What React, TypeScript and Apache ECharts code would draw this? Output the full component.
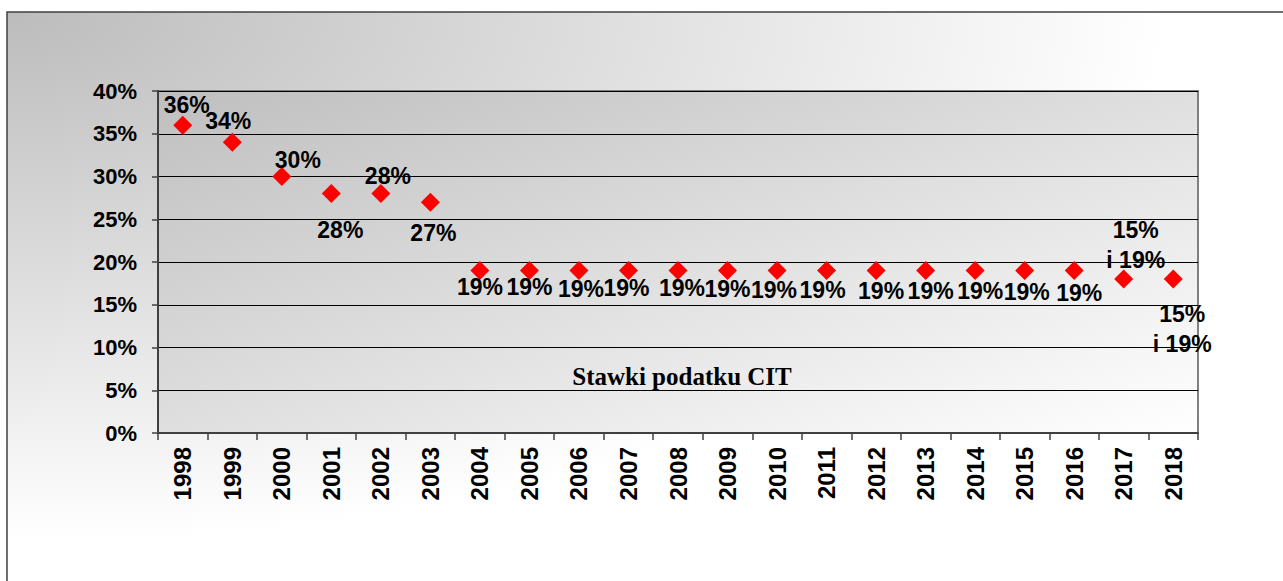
import React, { useEffect, useRef } from 'react';
import * as echarts from 'echarts';

const years = ['1998', '1999', '2000', '2001', '2002', '2003', '2004', '2005', '2006', '2007', '2008', '2009', '2010', '2011', '2012', '2013', '2014', '2015', '2016', '2017', '2018'];
const rates = [36, 34, 30, 28, 28, 27, 19, 19, 19, 19, 19, 19, 19, 19, 19, 19, 19, 19, 19, 18, 18];
const labelTexts = ['36%', '34%', '30%', '28%', '28%', '27%', '19%', '19%', '19%', '19%', '19%', '19%', '19%', '19%', '19%', '19%', '19%', '19%', '19%', '15%\ni 19%', '15%\ni 19%'];
const yTicks = [0, 5, 10, 15, 20, 25, 30, 35, 40];
const chartTitle = 'Stawki podatku CIT';

// label placement (layout only)
const labelOffsets: [number, number][] = [
  [4, -20], [-4, -21], [16, -17], [9, 36], [7, -18], [3, 31],
  [0, 16], [0, 16], [2, 18], [-2, 17], [4, 17], [0, 18], [-3, 19], [-4, 19], [5, 20], [5, 20], [5, 20], [2, 21], [5, 22],
  [12, -34], [9, 50],
];

export default function App() {
  const ref = useRef<HTMLDivElement>(null);
  useEffect(() => {
    const chart = echarts.init(ref.current!, null, { renderer: 'svg' });
    chart.setOption({
      animation: false,
      graphic: [
        {
          type: 'rect',
          z: -10,
          shape: { x: 7, y: 12, width: 1290, height: 590 },
          style: {
            fill: new echarts.graphic.RadialGradient(0, 0, 1, [
              { offset: 0, color: '#bcbcbc' },
              { offset: 0.9, color: '#ffffff' },
              { offset: 1, color: '#ffffff' },
            ]),
            stroke: '#404040',
            lineWidth: 1.5,
          },
        },
        {
          type: 'text',
          z: 10,
          x: 682,
          y: 376,
          style: {
            text: chartTitle,
            font: 'bold 25px "Liberation Serif", "Times New Roman", serif',
            fill: '#000',
            textAlign: 'center',
            textVerticalAlign: 'middle',
          },
        },
      ],
      grid: {
        left: 158,
        top: 91,
        right: 85,
        bottom: 148,
        show: true,
        backgroundColor: new echarts.graphic.LinearGradient(0, 0, 1, 1, [
          { offset: 0, color: '#bfbfbf' },
          { offset: 1, color: '#ffffff' },
        ]),
        borderColor: '#808080',
        borderWidth: 2,
      },
      xAxis: {
        type: 'category',
        data: years,
        boundaryGap: true,
        axisLine: { show: true, lineStyle: { color: '#404040', width: 2 } },
        axisTick: { show: true, alignWithLabel: false, interval: 0, length: 7, lineStyle: { color: '#404040', width: 1.5 } },
        axisLabel: {
          interval: 0,
          rotate: 90,
          margin: 14,
          color: '#000',
          fontSize: 24,
          fontWeight: 'bold',
          fontFamily: '"Liberation Sans", Arial, sans-serif',
        },
        splitLine: { show: false },
      },
      yAxis: {
        type: 'value',
        min: yTicks[0],
        max: yTicks[yTicks.length - 1],
        interval: 5,
        axisLine: { show: true, lineStyle: { color: '#404040', width: 2 } },
        axisTick: { show: true, length: 6, lineStyle: { color: '#404040', width: 1.5 } },
        axisLabel: {
          formatter: '{value}%',
          margin: 21,
          color: '#000',
          fontSize: 22,
          fontWeight: 'bold',
          fontFamily: '"Liberation Sans", Arial, sans-serif',
        },
        splitLine: { show: true, lineStyle: { color: '#000', width: 1 } },
      },
      series: [
        {
          type: 'scatter',
          symbol: 'diamond',
          symbolSize: 19,
          itemStyle: { color: '#ff0000', opacity: 1 },
          z: 3,
          data: rates.map((v, i) => ({
            value: v,
            label: {
              formatter: labelTexts[i],
              offset: labelOffsets[i],
            },
          })),
          label: {
            show: true,
            position: 'inside',
            align: 'center',
            verticalAlign: 'middle',
            color: '#000',
            opacity: 1,
            textBorderWidth: 0,
            fontSize: 23,
            fontWeight: 'bold',
            lineHeight: 30,
            fontFamily: '"Liberation Sans", Arial, sans-serif',
          },
          emphasis: { disabled: true },
        },
      ],
    });
    return () => chart.dispose();
  }, []);
  return <div ref={ref} style={{ position: 'absolute', left: 0, top: 0, width: 1283, height: 581 }} />;
}
